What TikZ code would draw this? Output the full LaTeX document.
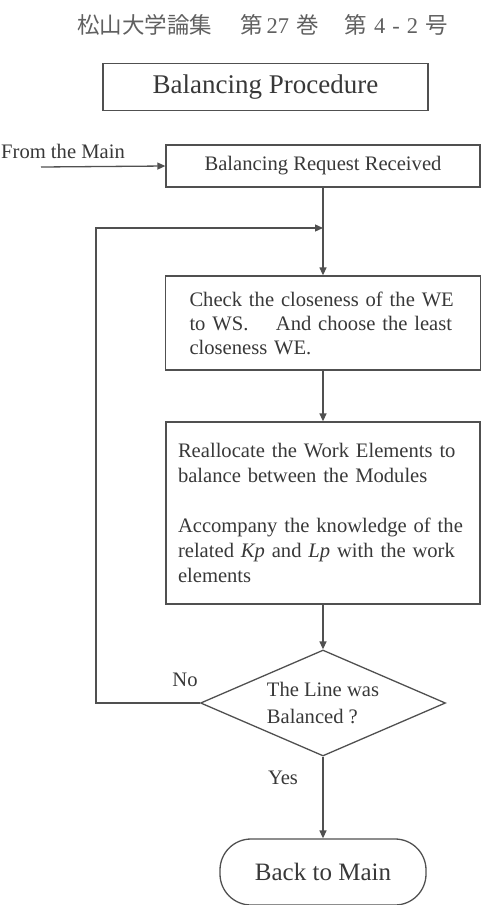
\documentclass[tikz,border=0pt]{standalone}
\usepackage{fontspec}
\setmainfont{Liberation Serif}
\newfontfamily\cjk{Noto Sans CJK JP}
\usetikzlibrary{arrows.meta,shapes.geometric}
\definecolor{ln}{HTML}{505050}
\definecolor{tx}{HTML}{383838}
\definecolor{hd}{HTML}{606060}
\newcommand{\oneline}[1]{\mbox{#1}}
\begin{document}
\begin{tikzpicture}[x=1pt,y=-1pt,
  box/.style={draw=ln, line width=1.3pt, rectangle, text=tx, font=\fontsize{20.6}{24}\selectfont},
  arr/.style={draw=ln, line width=1.3pt, -{Triangle[length=8pt,width=7pt]}},
  lbl/.style={text=tx, font=\fontsize{20.6}{24}\selectfont, inner sep=0pt}]
\useasboundingbox (0,0) rectangle (482,905);
\node[text=hd, font=\fontsize{22.5}{24}\selectfont, inner sep=0pt, anchor=west] (hdr) at (77,25)
  {{\cjk 松山大学論集}\hspace{28pt}{\cjk 第}\hspace{4pt}27\hspace{7pt}{\cjk 巻}\hspace{26pt}{\cjk 第}\hspace{7pt}4\hspace{7pt}-\hspace{7pt}2\hspace{7pt}{\cjk 号}};
\node[box, minimum width=325pt, minimum height=47pt, font=\fontsize{27}{30}\selectfont] (title) at (265.5,87) {Balancing Procedure};
\node[box, minimum width=314pt, minimum height=42pt] (recv) at (323,166) {Balancing Request Received};
\node[box, text width=267pt, inner xsep=24pt, minimum height=94pt, align=left] (chk) at (323,323)
  {\oneline{Check the closeness of the WE}\\ \oneline{to WS.\hspace{1em} And choose the least}\\ \oneline{closeness WE.}};
\node[box, text width=290pt, inner xsep=12pt, minimum height=182pt, align=left, font=\fontsize{20.6}{25}\selectfont] (rea) at (323,513)
  {\oneline{Reallocate the Work Elements to}\\ \oneline{balance between the Modules}\\[25pt] \oneline{Accompany the knowledge of the}\\ \oneline{related \textit{Kp} and \textit{Lp} with the work}\\ \oneline{elements}};
\node[draw=ln, line width=1.3pt, diamond, aspect=2.3, minimum width=245pt, minimum height=106pt, inner sep=0pt, align=left, text=tx, font=\fontsize{20.6}{27}\selectfont] (dec) at (323,703)
  {The Line was\\ Balanced ?};
\node[draw=ln, line width=1.3pt, rounded corners=31pt, minimum width=206pt, minimum height=66pt, text=tx, font=\fontsize{25}{28}\selectfont] (back) at (323,872) {Back to Main};
\node[lbl, anchor=west] (from) at (1,151) {From the Main};
\node[lbl] (no) at (185,680) {No};
\node[lbl] (yes) at (283,778) {Yes};
\coordinate (src) at (41,167);
\coordinate (join) at (323,228);
\coordinate (loopc) at (96,703);
\draw[arr] (src) -- (recv.west);
\draw[arr] (recv.south) -- (chk.north);
\draw[arr] (dec.west) -- (loopc) |- (join);
\draw[arr] (chk.south) -- (rea.north);
\draw[arr] (rea.south) -- (dec.north);
\draw[arr] (dec.south) -- (back.north);
\end{tikzpicture}
\end{document}
